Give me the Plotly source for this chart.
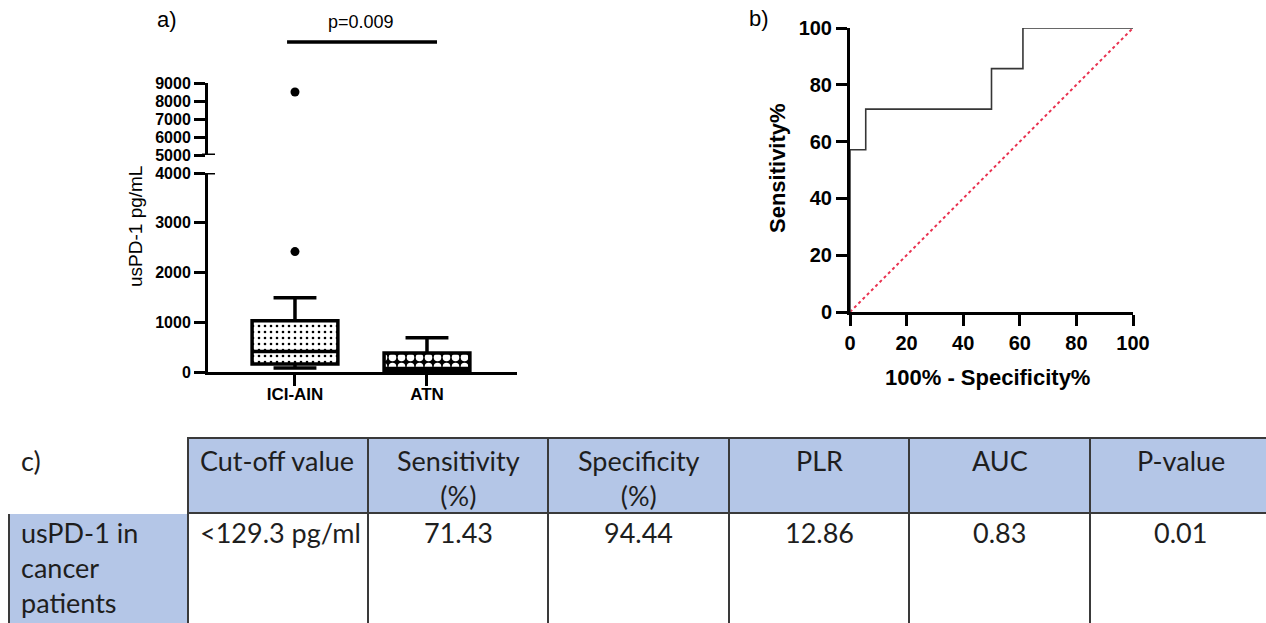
import plotly.graph_objects as go

# ---------------- data ----------------
groups = ["ICI-AIN", "ATN"]
q1 = [160, 20]
median = [410, 70]
q3 = [1030, 380]
lower_whisker = [80, 10]
upper_whisker = [1490, 690]
outlier_low_group = ["ICI-AIN"]
outlier_low_vals = [2420]
outlier_high_group = ["ICI-AIN"]
outlier_high_vals = [8500]
p_text = "p=0.009"

lower_ticks = [0, 1000, 2000, 3000, 4000]
upper_ticks = [5000, 6000, 7000, 8000, 9000]

roc_fpr = [0, 0, 5.56, 50, 61.11, 100]
roc_tpr = [0, 57.14, 71.43, 85.71, 100, 100]
ref_x = [0, 100]
ref_y = [0, 100]
roc_ticks = [0, 20, 40, 60, 80, 100]

table_header = ["c)", "Cut-off value", "Sensitivity<br>(%)", "Specificity<br>(%)", "PLR", "AUC", "P-value"]
table_row = ["usPD-1 in<br>cancer<br>patients", "<129.3 pg/ml", "71.43", "94.44", "12.86", "0.83", "0.01"]
table_align = ["left", "left", "center", "center", "center", "center", "center"]

# ---------------- layout helpers ----------------
EXTRA = 12                   # table runs past the right edge of the view, as in the reference
W, H = 1266 + EXTRA, 623
def px(x):
    return x / W
def py(y):
    return 1 - y / H

FONT = "Liberation Sans, Arial, sans-serif"
TFONT = "Lato, sans-serif"
BLUE = "#b4c6e7"
TXT = "#1e1e1e"

fig = go.Figure()

# pattern fill of the boxes
fig.add_trace(go.Bar(
    x=groups, y=[b - a for a, b in zip(q1, q3)], base=q1, width=0.65,
    marker=dict(color="white", line=dict(width=0),
                pattern=dict(shape=[".", "."], fgcolor=["black", "white"],
                             bgcolor=["white", "black"], size=[6, 9],
                             solidity=[0.15, 0.55])),
    xaxis="x", yaxis="y", showlegend=False, hoverinfo="skip"))

fig.add_trace(go.Box(
    x=groups, q1=q1, median=median, q3=q3,
    lowerfence=lower_whisker, upperfence=upper_whisker,
    width=0.65, whiskerwidth=0.5, fillcolor="rgba(0,0,0,0)",
    line=dict(color="black", width=3.5), boxpoints=False,
    xaxis="x", yaxis="y", showlegend=False))

fig.add_trace(go.Scatter(x=outlier_low_group, y=outlier_low_vals, mode="markers",
                         marker=dict(color="black", size=9), xaxis="x", yaxis="y",
                         showlegend=False, cliponaxis=False))
fig.add_trace(go.Scatter(x=outlier_high_group, y=outlier_high_vals, mode="markers",
                         marker=dict(color="black", size=9), xaxis="x", yaxis="y2",
                         showlegend=False, cliponaxis=False))

# ROC
fig.add_trace(go.Scatter(x=ref_x, y=ref_y, mode="lines",
                         line=dict(color="#e8314f", width=2, dash="dot"),
                         xaxis="x2", yaxis="y3", showlegend=False, cliponaxis=False))
fig.add_trace(go.Scatter(x=roc_fpr, y=roc_tpr, mode="lines", line_shape="hv",
                         line=dict(color="#363636", width=1.6),
                         xaxis="x2", yaxis="y3", showlegend=False, cliponaxis=False))

# table grid (text placed as annotations so every line can be centred)
n = len(table_header)
col_widths = [179, 180, 180, 181, 180, 181, 181]
row_heights = [75, 110]
table_left, table_top = 9, 438
grid_widths = col_widths[:-1] + [W - table_left - sum(col_widths[:-1])]
fig.add_trace(go.Table(
    domain=dict(x=[px(table_left), 1], y=[0, py(table_top)]),
    columnwidth=grid_widths,
    header=dict(values=[""] * n,
                fill=dict(color=["white"] + [BLUE] * (n - 1)),
                line=dict(color=["white"] + ["#3a3a3a"] * (n - 1), width=1.5),
                height=row_heights[0]),
    cells=dict(values=[[""] for _ in range(n)],
               fill=dict(color=[BLUE] + ["white"] * (n - 1)),
               line=dict(color="#3a3a3a", width=1.5),
               height=row_heights[1] + 10)))   # row continues below the visible edge

edges = [table_left]
for w in col_widths:
    edges.append(edges[-1] + w)
row_tops = [table_top, table_top + row_heights[0]]
row_pad = [4, 1]
for r, texts in enumerate([table_header, table_row]):
    for c, t in enumerate(texts):
        if table_align[c] == "left":
            xx, xa = edges[c] + 10, "left"
        else:
            xx, xa = (edges[c] + edges[c + 1]) / 2, "center"
        fig.add_annotation(text=t, xref="paper", yref="paper", x=px(xx), y=py(row_tops[r] + row_pad[r]),
                           xanchor=xa, yanchor="top", align=table_align[c], showarrow=False,
                           font=dict(family=TFONT, size=27, color=TXT))

axis_common = dict(showline=True, linecolor="black", linewidth=3, ticks="outside",
                   tickcolor="black", tickwidth=3, ticklen=11, showgrid=False,
                   zeroline=False, mirror=False, automargin=False)

fig.update_layout(
    template="none",
    width=W, height=H, margin=dict(l=0, r=0, t=0, b=0, autoexpand=False),
    paper_bgcolor="white", plot_bgcolor="rgba(0,0,0,0)",
    font=dict(family=FONT, color="black"),
    barmode="overlay", showlegend=False,
    xaxis=dict(domain=[px(208), px(517)], range=[-0.659, 1.682], type="category",
               anchor="y", tickfont=dict(size=17, weight="bold"), ticklabelstandoff=-6,
               **axis_common),
    yaxis=dict(domain=[py(372), py(173)], range=[0, 4000], anchor="x",
               tickvals=lower_ticks, tickfont=dict(size=16, weight="bold"), **axis_common),
    yaxis2=dict(domain=[py(155), py(83)], range=[5000, 9000], anchor="x",
                tickvals=upper_ticks, tickfont=dict(size=16, weight="bold"), **axis_common),
    xaxis2=dict(domain=[px(850), px(1133)], range=[0, 100], anchor="y3",
                tickvals=roc_ticks, tickfont=dict(size=20, weight="bold"), **axis_common),
    yaxis3=dict(domain=[py(312), py(28)], range=[0, 100], anchor="x2",
                tickvals=roc_ticks, tickfont=dict(size=20, weight="bold"), **axis_common),
)

# axis break marks and significance bar
fig.add_shape(type="line", xref="paper", yref="y2", x0=px(202), x1=px(215), y0=5000, y1=5000,
              line=dict(color="black", width=3))
fig.add_shape(type="line", xref="paper", yref="y", x0=px(202), x1=px(215), y0=4000, y1=4000,
              line=dict(color="black", width=3))
fig.add_shape(type="line", xref="x", yref="paper", x0=-0.06, x1=1.076, y0=py(42), y1=py(42),
              line=dict(color="black", width=3.5))

def label(text, x, y, size, bold=False, angle=0):
    fig.add_annotation(text=text, xref="paper", yref="paper", x=px(x), y=py(y),
                       xanchor="center", yanchor="middle", textangle=angle, showarrow=False,
                       font=dict(size=size, family=FONT, color="black",
                                 weight="bold" if bold else "normal"))

fig.add_annotation(text=p_text, xref="x", yref="paper", x=0.5, y=py(22), xanchor="center",
                   yanchor="middle", showarrow=False, font=dict(size=18, family=FONT))
label("a)", 167, 20, 22)
label("b)", 759, 19, 22)
label("usPD-1 pg/mL", 135, 227, 19, angle=-90)
label("Sensitivity%", 777, 168, 22, bold=True, angle=-90)
label("100% - Specificity%", 987, 377, 22, bold=True)

# the page's default body margin would shift the figure by 8 px; remove it
fig.write_html("out.html", config={"displayModeBar": False},
               post_script="document.body.style.margin='0';document.body.style.overflow='hidden';")
